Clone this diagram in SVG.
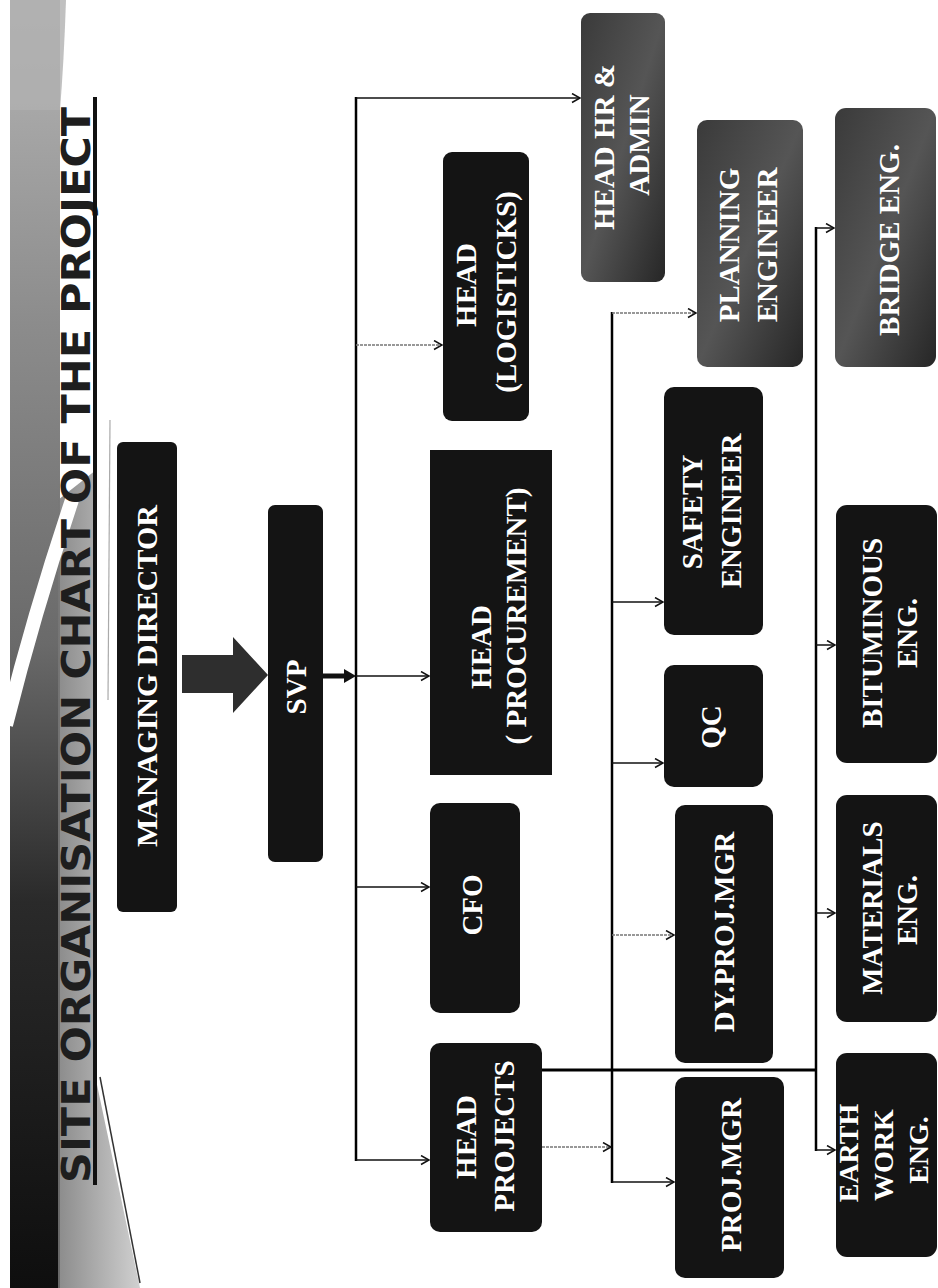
<svg xmlns="http://www.w3.org/2000/svg" width="938" height="1288" viewBox="0 0 938 1288">
<style>
.box{fill:#141414;}
.boxg{fill:url(#gbox);}
.t{font-family:"Liberation Serif","Times New Roman",serif;font-weight:bold;font-size:29px;fill:#ffffff;text-anchor:middle;}
.trunk{stroke:#000;stroke-width:2.5;fill:none;}
.br{stroke:#111;stroke-width:1.5;fill:none;marker-end:url(#arr);}
.brg{stroke:#777;stroke-width:1.6;fill:none;stroke-dasharray:3 1;marker-end:url(#arr);}
.title{font-family:"Liberation Sans Narrow","DejaVu Sans Condensed","Liberation Sans",sans-serif;font-weight:bold;font-size:39px;fill:#1e1e1e;}
</style>
<defs>
<marker id="arr" markerUnits="userSpaceOnUse" markerWidth="12" markerHeight="12" refX="9" refY="5" orient="auto">
<path d="M1,0.5 L9,5 L1,9.5" fill="none" stroke="#111" stroke-width="1.5"/>
</marker>
<linearGradient id="gband" x1="0" y1="0" x2="0" y2="1">
<stop offset="0" stop-color="#b5b5b5"/>
<stop offset="0.25" stop-color="#8c8c8c"/>
<stop offset="0.5" stop-color="#6a6a6a"/>
<stop offset="0.7" stop-color="#2a2a2a"/>
<stop offset="1" stop-color="#0e0e0e"/>
</linearGradient>
<linearGradient id="gwedge" x1="0" y1="0" x2="1" y2="0">
<stop offset="0" stop-color="#777"/>
<stop offset="1" stop-color="#c8c8c8"/>
</linearGradient>
<linearGradient id="gbox" x1="0" y1="0" x2="1" y2="1">
<stop offset="0" stop-color="#3a3a3a"/>
<stop offset="0.5" stop-color="#555"/>
<stop offset="1" stop-color="#262626"/>
</linearGradient>
</defs>
<rect width="938" height="1288" fill="#ffffff"/>
<g id="decoration">
<rect x="10" y="0" width="50" height="1288" fill="url(#gband)"/>
<path d="M10,0 L66,0 Q64,60 60,110 L10,110 Z" fill="#b0b0b0" opacity="0.8"/>
<path d="M58,500 L96,470 L96,1080 L140,1288 L58,1288 Z" fill="url(#gwedge)" opacity="0.85"/>
<path d="M6,725 Q35,610 72,500" stroke="#ffffff" stroke-width="14" fill="none"/>
<line x1="110" y1="420" x2="108" y2="700" stroke="#aaa" stroke-width="1.2"/>
<line x1="100" y1="1077" x2="140" y2="1283" stroke="#333" stroke-width="1.5"/>
</g>
<g id="title">
<text class="title" transform="translate(90,1183) rotate(-90)" x="0" y="0" textLength="1076" lengthAdjust="spacingAndGlyphs">SITE ORGANISATION CHART OF THE PROJECT</text>
<line x1="95" y1="97" x2="95" y2="1185" stroke="#111" stroke-width="4"/>
</g>
<g id="connectors">
<polygon points="182,655 233,655 233,637 268,675 233,713 233,693 182,693" fill="#2e2e2e"/>
<line x1="323" y1="676" x2="348" y2="676" stroke="#111" stroke-width="5"/>
<polygon points="344,669 356,676 344,683" fill="#111"/>
<line class="trunk" x1="356" y1="97" x2="356" y2="1161"/>
<line class="br" x1="356" y1="98" x2="580" y2="98"/>
<line class="brg" x1="356" y1="345" x2="442" y2="345"/>
<line class="br" x1="356" y1="676" x2="429" y2="676"/>
<line class="br" x1="356" y1="887" x2="429" y2="887"/>
<line class="br" x1="356" y1="1160" x2="429" y2="1160"/>
<line class="trunk" x1="612" y1="312" x2="612" y2="1183"/>
<line class="brg" x1="612" y1="313" x2="696" y2="313"/>
<line class="br" x1="612" y1="602" x2="663" y2="602"/>
<line class="br" x1="612" y1="763" x2="663" y2="763"/>
<line class="brg" x1="612" y1="935" x2="674" y2="935"/>
<line class="br" x1="612" y1="1182" x2="674" y2="1182"/>
<line class="brg" x1="542" y1="1147" x2="611" y2="1147"/>
<line x1="542" y1="1070" x2="816" y2="1070" stroke="#000" stroke-width="3"/>
<line class="trunk" x1="816" y1="227" x2="816" y2="1151"/>
<line class="br" x1="816" y1="228" x2="834" y2="228"/>
<line class="br" x1="816" y1="645" x2="835" y2="645"/>
<line class="br" x1="816" y1="913" x2="835" y2="913"/>
<line class="br" x1="816" y1="1150" x2="835" y2="1150"/>
</g>
<g id="managing-director">
<rect class="box" x="117" y="442" width="60" height="470" rx="6"/>
<text class="t" style="font-size:30px" transform="translate(157,676) rotate(-90)">MANAGING DIRECTOR</text>
</g>
<g id="svp">
<rect class="box" x="268" y="505" width="55" height="357" rx="7"/>
<text class="t" transform="translate(306,687) rotate(-90)">SVP</text>
</g>
<g id="head-logisticks">
<rect class="box" x="443" y="152" width="86" height="269" rx="9"/>
<text class="t" transform="translate(476,285) rotate(-90)">HEAD</text>
<text class="t" transform="translate(516,292) rotate(-90)">(LOGISTICKS)</text>
</g>
<g id="head-hr-admin">
<rect class="boxg" x="581" y="13" width="84" height="269" rx="9"/>
<text class="t" transform="translate(614,147) rotate(-90)">HEAD HR &amp;</text>
<text class="t" transform="translate(649,145) rotate(-90)">ADMIN</text>
</g>
<g id="head-procurement">
<rect class="box" x="430" y="450" width="122" height="325"/>
<text class="t" transform="translate(491,647) rotate(-90)">HEAD</text>
<text class="t" transform="translate(526,616) rotate(-90)">( PROCUREMENT)</text>
</g>
<g id="cfo">
<rect class="box" x="430" y="803" width="90" height="210" rx="10"/>
<text class="t" transform="translate(482,905) rotate(-90)">CFO</text>
</g>
<g id="head-projects">
<rect class="box" x="430" y="1043" width="112" height="189" rx="10"/>
<text class="t" transform="translate(476,1137) rotate(-90)">HEAD</text>
<text class="t" transform="translate(514,1136) rotate(-90)">PROJECTS</text>
</g>
<g id="planning-engineer">
<rect class="boxg" x="697" y="120" width="106" height="247" rx="10"/>
<text class="t" transform="translate(739,245) rotate(-90)">PLANNING</text>
<text class="t" transform="translate(777,245) rotate(-90)">ENGINEER</text>
</g>
<g id="safety-engineer">
<rect class="box" x="664" y="387" width="99" height="248" rx="10"/>
<text class="t" transform="translate(702,512) rotate(-90)">SAFETY</text>
<text class="t" transform="translate(741,511) rotate(-90)">ENGINEER</text>
</g>
<g id="qc">
<rect class="box" x="664" y="665" width="99" height="122" rx="10"/>
<text class="t" transform="translate(721,727) rotate(-90)">QC</text>
</g>
<g id="dy-proj-mgr">
<rect class="box" x="675" y="805" width="98" height="258" rx="10"/>
<text class="t" transform="translate(734,932) rotate(-90)">DY.PROJ.MGR</text>
</g>
<g id="proj-mgr">
<rect class="box" x="675" y="1077" width="109" height="201" rx="10"/>
<text class="t" transform="translate(741,1175) rotate(-90)">PROJ.MGR</text>
</g>
<g id="bridge-eng">
<rect class="boxg" x="835" y="108" width="101" height="259" rx="11"/>
<text class="t" transform="translate(899,240) rotate(-90)">BRIDGE ENG.</text>
</g>
<g id="bituminous-eng">
<rect class="box" x="836" y="505" width="101" height="258" rx="11"/>
<text class="t" transform="translate(882,633) rotate(-90)">BITUMINOUS</text>
<text class="t" transform="translate(917,633) rotate(-90)">ENG.</text>
</g>
<g id="materials-eng">
<rect class="box" x="836" y="795" width="101" height="227" rx="11"/>
<text class="t" transform="translate(882,908) rotate(-90)">MATERIALS</text>
<text class="t" transform="translate(917,910) rotate(-90)">ENG.</text>
</g>
<g id="earth-work-eng">
<rect class="box" x="836" y="1053" width="101" height="204" rx="11"/>
<text class="t" style="font-size:28px" transform="translate(858,1153) rotate(-90)">EARTH</text>
<text class="t" style="font-size:28px" transform="translate(893,1155) rotate(-90)">WORK</text>
<text class="t" style="font-size:28px" transform="translate(928,1150) rotate(-90)">ENG.</text>
</g>
</svg>
